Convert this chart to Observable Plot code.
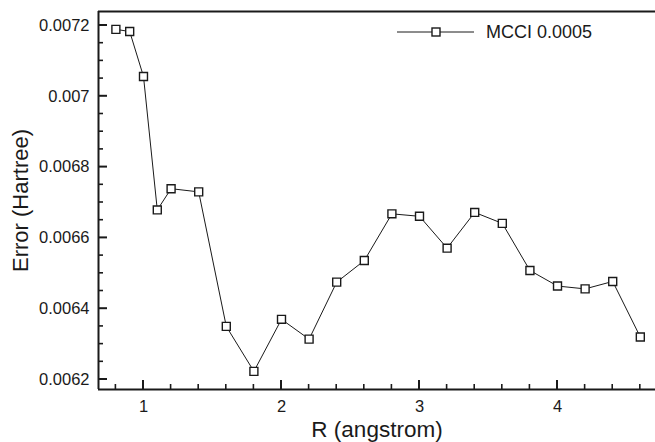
<!DOCTYPE html>
<html><head><meta charset="utf-8">
<script src="https://cdn.jsdelivr.net/npm/d3@7"></script>
<script src="https://cdn.jsdelivr.net/npm/@observablehq/plot@0.6"></script>
<style>body{margin:0;background:#fff} svg{display:block}</style>
</head><body><div id="chart"></div>
<script>
const R = [0.8, 0.9, 1.0, 1.1, 1.2, 1.4, 1.6, 1.8, 2.0, 2.2, 2.4, 2.6, 2.8, 3.0, 3.2, 3.4, 3.6, 3.8, 4.0, 4.2, 4.4, 4.6];
const error = [0.007189, 0.007183, 0.007056, 0.006679, 0.006739, 0.006730, 0.006350, 0.006223, 0.006370, 0.006314, 0.006475, 0.006536, 0.006668, 0.006661, 0.006571, 0.006672, 0.006641, 0.006508, 0.006464, 0.006456, 0.006477, 0.006320];
const xMajor = [1, 2, 3, 4];
const xLabels = ["1", "2", "3", "4"];
const xMinor = [0.8, 1.2, 1.4, 1.6, 1.8, 2.2, 2.4, 2.6, 2.8, 3.2, 3.4, 3.6, 3.8, 4.2, 4.4, 4.6];
const yMajor = [0.0062, 0.0064, 0.0066, 0.0068, 0.007, 0.0072];
const yLabels = ["0.0062", "0.0064", "0.0066", "0.0068", "0.007", "0.0072"];
const yMinor = [0.00625, 0.0063, 0.00635, 0.00645, 0.0065, 0.00655, 0.00665, 0.0067, 0.00675, 0.00685, 0.0069, 0.00695, 0.00705, 0.0071, 0.00715];
const seriesName = "MCCI 0.0005";
const xTitle = "R (angstrom)";
const yTitle = "Error (Hartree)";

const data = R.map((r, i) => ({r, e: error[i]}));

const W = 655, H = 442, mL = 98, mT = 11, mB = 53, mR = 0;
const xDomain = [0.674, 4.71];
const yDomain = [0.0061718, 0.0072395];
const ink = "#1a1a1a";
const font = "'Liberation Sans', Arial, Helvetica, sans-serif";
const majorLen = 9, minorLen = 5;

const chart = Plot.plot({
  width: W, height: H,
  marginLeft: mL, marginRight: mR, marginTop: mT, marginBottom: mB,
  style: {fontFamily: font, background: "#fff", color: ink},
  x: {domain: xDomain, label: null},
  y: {domain: yDomain, label: null},
  marks: [
    Plot.axisX({ticks: xMajor, tickSize: 0, tickPadding: 11, fontSize: 16.5, tickFormat: d => xLabels[xMajor.indexOf(d)]}),
    Plot.axisY({ticks: yMajor, tickSize: 0, tickPadding: 9, fontSize: 16.5, tickFormat: d => yLabels[yMajor.indexOf(d)]}),
    Plot.ruleX([xDomain[0]], {stroke: ink, strokeWidth: 2}),
    Plot.ruleY(yDomain, {stroke: ink, strokeWidth: 2}),
    Plot.line(data, {x: "r", y: "e", stroke: ink, strokeWidth: 1}),
    Plot.dot(data, {x: "r", y: "e", symbol: "square", r: 4.5, fill: "white", stroke: ink, strokeWidth: 1.4}),
    Plot.text([xTitle], {text: d => d, frameAnchor: "bottom", textAnchor: "middle", dy: 40, fontSize: 22.5, lineAnchor: "middle", fill: ink}),
    Plot.text([yTitle], {text: d => d, frameAnchor: "left", textAnchor: "middle", dx: -78, rotate: -90, fontSize: 22, lineAnchor: "middle", fill: ink})
  ]
});

const svg = d3.select(chart);
const sx = chart.scale("x"), sy = chart.scale("y");
const x0 = sx.apply(xDomain[0]), y0 = sy.apply(yDomain[0]);

// inward ticks, positioned through the chart's own scales
const tg = svg.append("g").attr("stroke", ink);
xMajor.forEach(v => tg.append("line").attr("x1", sx.apply(v)).attr("x2", sx.apply(v))
  .attr("y1", y0).attr("y2", y0 - majorLen).attr("stroke-width", 2));
xMinor.forEach(v => tg.append("line").attr("x1", sx.apply(v)).attr("x2", sx.apply(v))
  .attr("y1", y0).attr("y2", y0 - minorLen).attr("stroke-width", 1.6));
yMajor.forEach(v => tg.append("line").attr("y1", sy.apply(v)).attr("y2", sy.apply(v))
  .attr("x1", x0).attr("x2", x0 + majorLen).attr("stroke-width", 2));
yMinor.forEach(v => tg.append("line").attr("y1", sy.apply(v)).attr("y2", sy.apply(v))
  .attr("x1", x0).attr("x2", x0 + minorLen).attr("stroke-width", 1.6));

// legend inside the plot area
const lg = svg.append("g");
lg.append("line").attr("x1", 397).attr("x2", 474).attr("y1", 32).attr("y2", 32)
  .attr("stroke", ink).attr("stroke-width", 1);
lg.append("rect").attr("x", 432).attr("y", 28).attr("width", 8).attr("height", 8)
  .attr("fill", "white").attr("stroke", ink).attr("stroke-width", 1.4);
lg.append("text").attr("x", 486).attr("y", 32).attr("dy", "0.35em")
  .attr("text-anchor", "start")
  .attr("font-size", 18).attr("font-family", font).attr("fill", ink).text(seriesName);

document.getElementById("chart").appendChild(chart);
</script>
</body></html>
